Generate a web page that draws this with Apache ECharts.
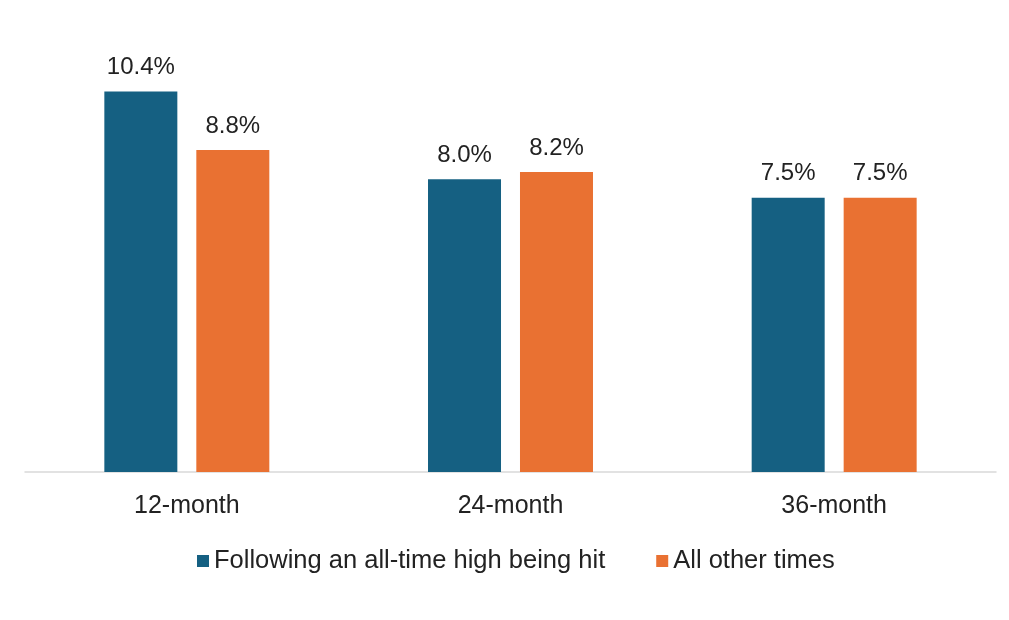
<!DOCTYPE html>
<html>
<head>
<meta charset="utf-8">
<script src="https://cdn.jsdelivr.net/npm/echarts@6/dist/echarts.min.js"></script>
<style>
html,body{margin:0;padding:0;background:#fff;}
#chart{width:1009px;height:620px;}
</style>
</head>
<body>
<div id="chart"></div>
<script>
const categories = ['12-month', '24-month', '36-month'];
const seriesNames = ['Following an all-time high being hit', 'All other times'];
const athValues = [10.4, 8.0, 7.5];
const otherValues = [8.8, 8.2, 7.5];

const chart = echarts.init(document.getElementById('chart'));
const labelStyle = {
  show: true, position: 'top', distance: 12,
  fontFamily: 'Liberation Sans', fontSize: 24, color: '#222',
  formatter: p => p.value.toFixed(1) + '%'
};
chart.setOption({
  animation: false,
  backgroundColor: '#fff',
  grid: { left: 25, right: 13, top: 33, bottom: 148 },
  legend: {
    data: seriesNames,
    left: 192, top: 543,
    itemWidth: 12, itemHeight: 12, itemGap: 51,
    icon: 'rect',
    textStyle: { fontFamily: 'Liberation Sans', fontSize: 25.5, color: '#222' }
  },
  xAxis: {
    type: 'category', data: categories,
    axisLine: { lineStyle: { color: '#d9d9d9', width: 1.5 } },
    axisTick: { show: false },
    axisLabel: { fontFamily: 'Liberation Sans', fontSize: 25, color: '#222', margin: 22 }
  },
  yAxis: {
    type: 'value', min: 0, max: 12, show: false,
    splitLine: { show: false }
  },
  series: [
    { name: seriesNames[0], type: 'bar', data: athValues, barWidth: 73, barGap: '26%',
      itemStyle: { color: '#156082' }, label: labelStyle },
    { name: seriesNames[1], type: 'bar', data: otherValues, barWidth: 73,
      itemStyle: { color: '#E97132' }, label: labelStyle }
  ]
});
</script>
</body>
</html>
